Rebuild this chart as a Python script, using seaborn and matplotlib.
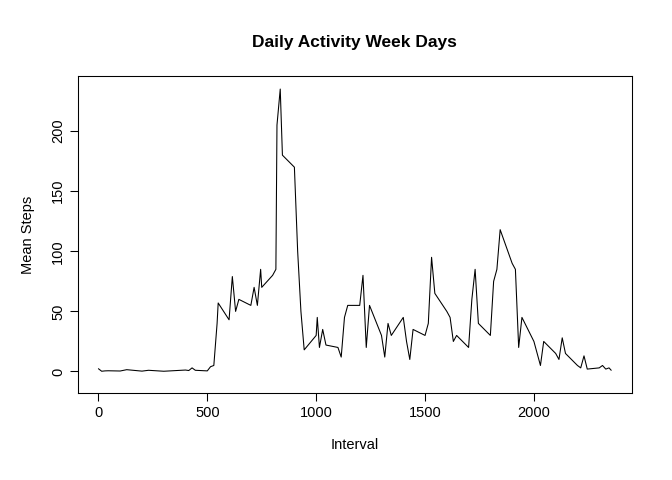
import matplotlib
matplotlib.use("Agg")
from matplotlib import pyplot as plt
import pandas as pd
import seaborn as sns

# interval codes (hhmm) and weekday mean steps
intervals = [0, 15, 30, 45, 100, 130, 200, 230, 300, 330, 400, 415, 430, 445,
             500, 515, 530, 545, 550, 600, 615, 630, 645, 700, 715, 730, 745,
             750, 800, 815, 820, 835, 845, 900, 915, 930, 945, 1000, 1005,
             1015, 1030, 1045, 1100, 1115, 1130, 1145, 1200, 1215, 1230, 1245,
             1300, 1315, 1330, 1345, 1400, 1415, 1430, 1445, 1500, 1515, 1530,
             1545, 1600, 1615, 1630, 1645, 1700, 1715, 1730, 1745, 1800, 1815,
             1830, 1845, 1900, 1915, 1930, 1945, 2000, 2015, 2030, 2045, 2100,
             2115, 2130, 2145, 2200, 2215, 2230, 2245, 2300, 2315, 2330, 2345, 2355]
steps = [2.3, 0.2, 0.5, 0.6, 0.4, 1.5, 0.3, 1.0, 0.2, 0.5, 1.2, 0.8, 3.0, 1.0,
         0.5, 4.0, 5.0, 40, 57, 43, 79, 50, 60, 55, 70, 55, 85,
         70, 80, 85, 205, 235, 180, 170, 100, 50, 18, 30, 45,
         20, 35, 22, 20, 12, 45, 55, 55, 80, 20, 55,
         30, 12, 40, 30, 45, 25, 10, 35, 30, 40, 95,
         65, 50, 45, 25, 30, 20, 60, 85, 40, 30, 75,
         85, 118, 90, 85, 20, 45, 25, 15, 5, 25, 15,
         10, 28, 15, 5, 3, 13, 2, 3, 5, 2, 3, 1]

df = pd.DataFrame({"Interval": intervals, "Mean Steps": steps})

sns.set_style("white")
plt.rcParams["font.family"] = ["Liberation Sans", "DejaVu Sans"]
plt.rcParams["text.color"] = "black"
plt.rcParams["axes.labelcolor"] = "black"

fig = plt.figure(figsize=(7, 5), dpi=96)
ax = fig.add_axes([0.116, 0.181, 0.824, 0.661])
sns.lineplot(data=df, x="Interval", y="Mean Steps", color="black", linewidth=0.8, ax=ax)

ax.set_xlim(-94, 2449)
ax.set_ylim(-18, 246)
ax.set_xticks([0, 500, 1000, 1500, 2000])
ax.set_yticks([0, 50, 100, 150, 200])
for lab in ax.get_yticklabels():
    lab.set_rotation(90)
    lab.set_va("center")
ax.tick_params(direction="out", length=6, width=0.8, labelsize=11, colors="black",
               left=True, bottom=True)
for s in ax.spines.values():
    s.set_color("black")
    s.set_linewidth(0.8)
ax.set_xlabel("Interval", fontsize=11, labelpad=14)
ax.set_ylabel("Mean Steps", fontsize=11, labelpad=12)
ax.set_title("Daily Activity Week Days", fontsize=13, fontweight="bold", pad=22, color="black")

fig.savefig("out.png", dpi=96)
